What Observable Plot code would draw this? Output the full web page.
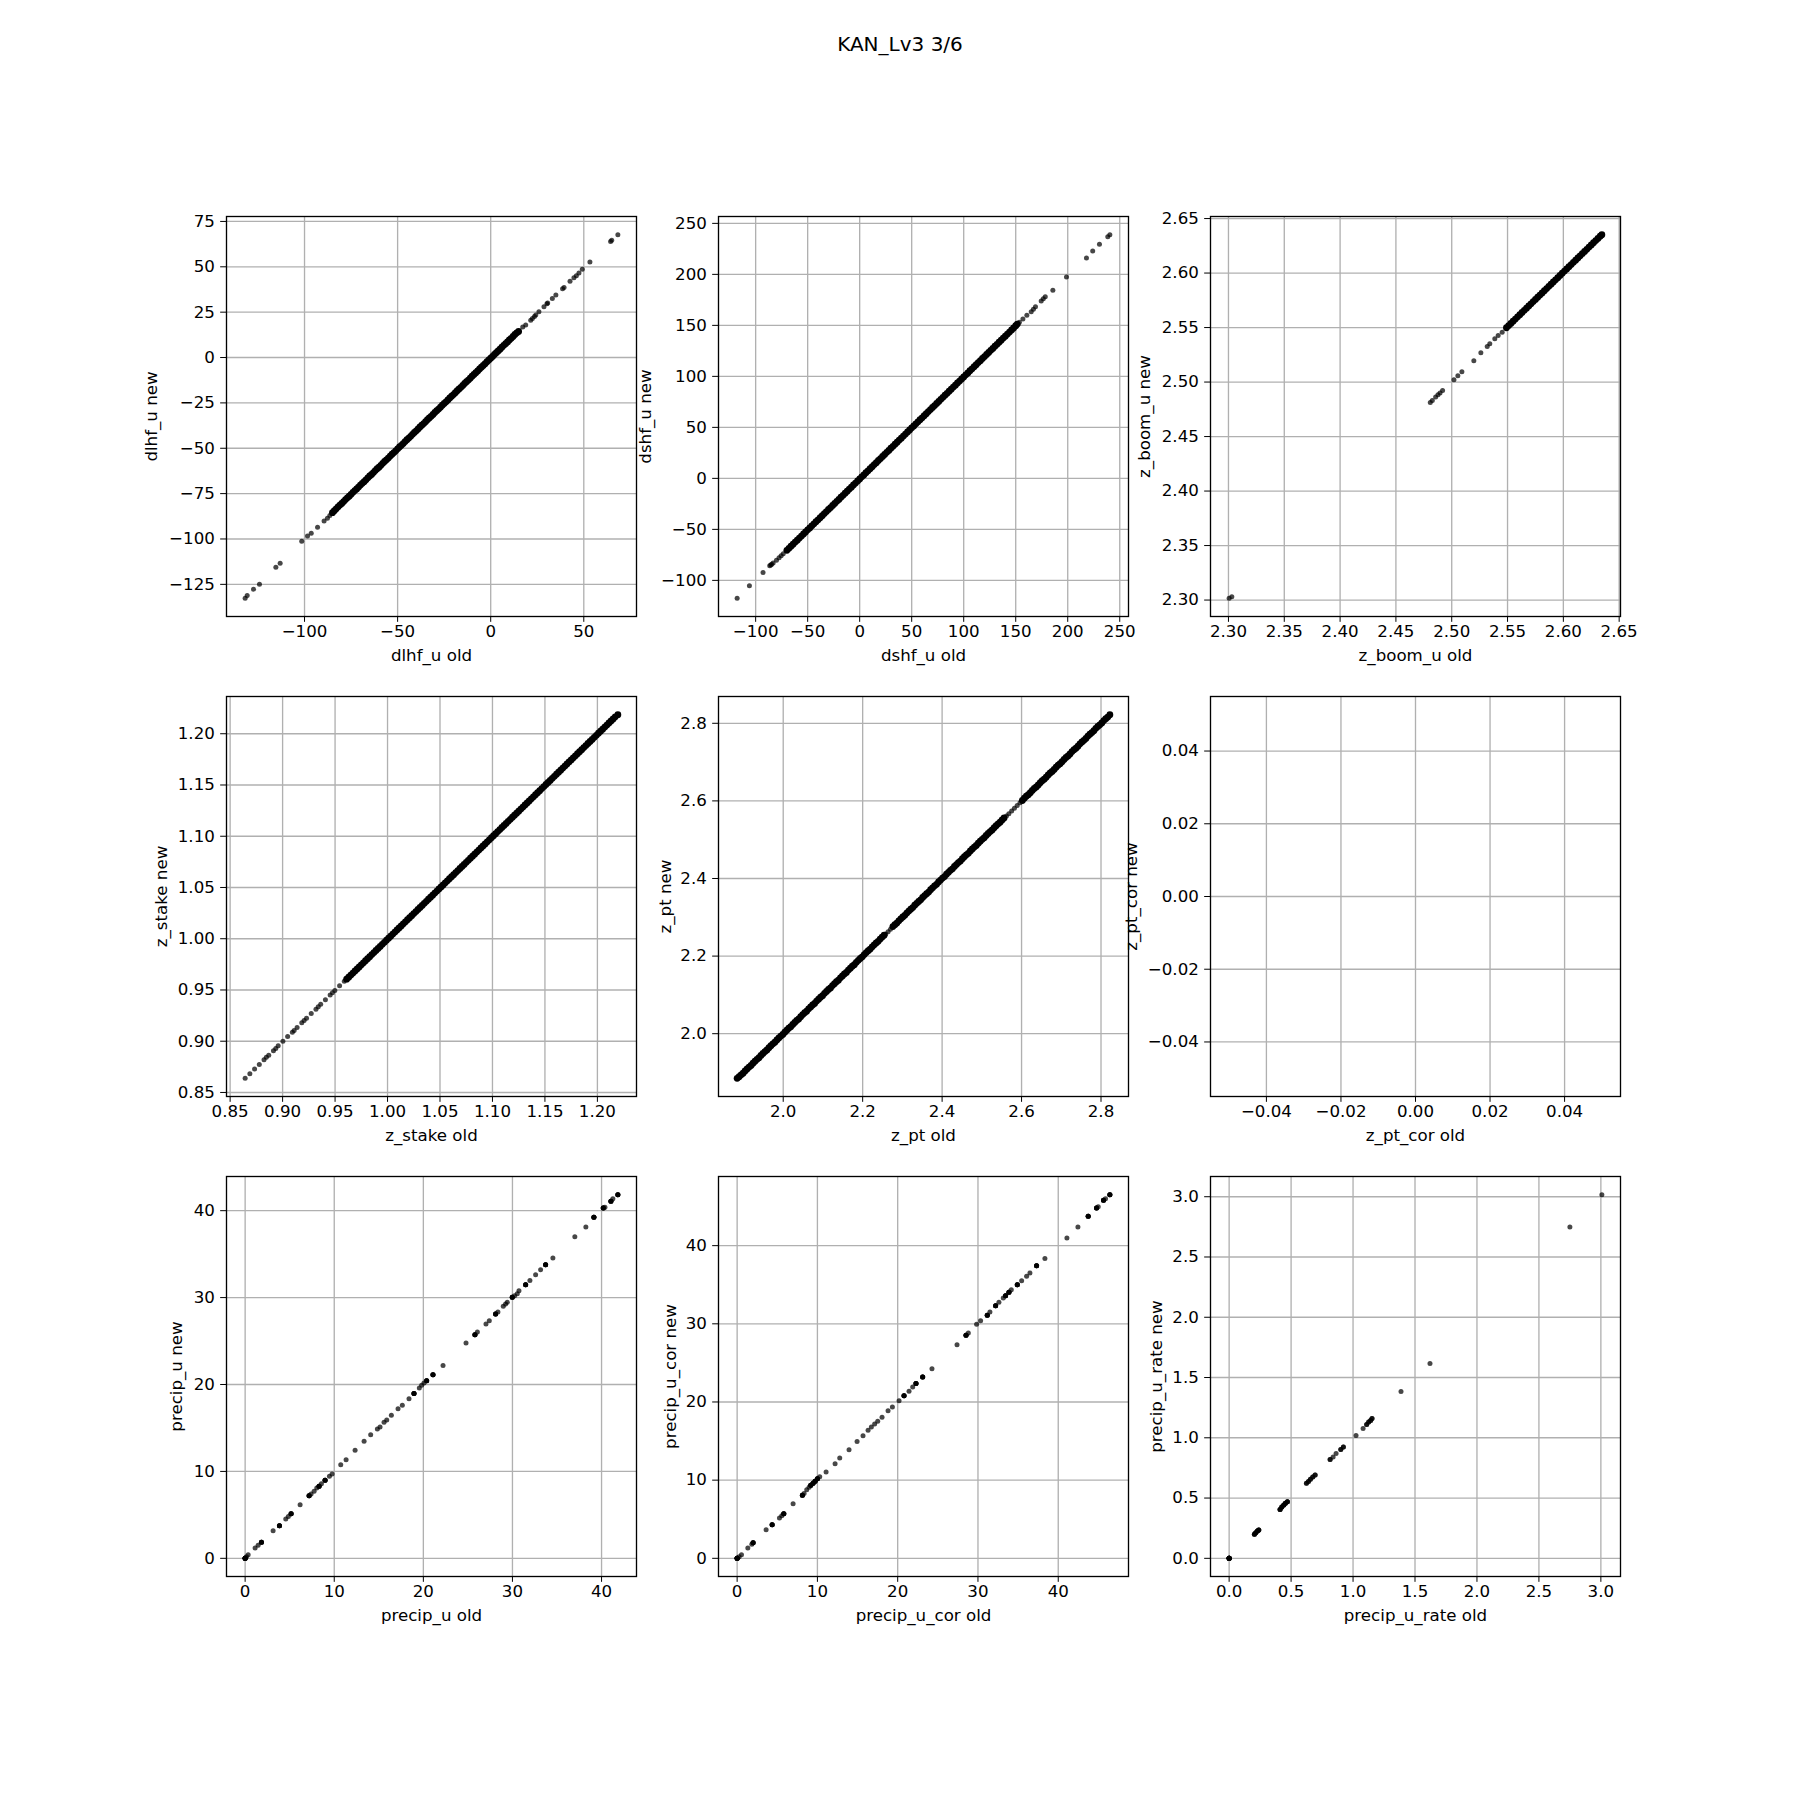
<!DOCTYPE html>
<html><head><meta charset="utf-8">
<script src="https://cdn.jsdelivr.net/npm/d3@7"></script>
<script src="https://cdn.jsdelivr.net/npm/@observablehq/plot@0.6"></script>
<style>
body{margin:0;background:#fff;}
#fig{position:relative;width:1800px;height:1800px;background:#fff;font-family:"DejaVu Sans",sans-serif;overflow:hidden;}
#title{position:absolute;left:0;width:1800px;top:34px;text-align:center;font-size:20px;line-height:1;color:#000;}
.panel{position:absolute;}
.panel svg{overflow:visible;}
</style></head><body>
<div id="fig"><div id="title">KAN_Lv3 3/6</div></div>
<script>
// ---------- data: [old, new, (stack count)] ----------
const dlhfSparse = [[-131.9,-132.7],[-130.8,-131.2],[-127.4,-127.7],[-124.2,-125],[-115.4,-115.6],[-113.1,-113.4],[-101.5,-101.3],[-98.4,-98.3],[-96.4,-96.9],[-93,-93.6],[-89.5,-90.1],[-87.7,-88.6],[-86.4,-87],[17.2,16.8],[18.8,17.9],[21.5,20.6],[22.4,21.5],[23.5,22.6],[24.2,23.5],[25.9,25.2],[28.6,28],[30.2,29.6],[30.6,30],[33.1,32.5],[35,34.5],[38.6,37.9],[39.4,38.6],[42.6,42],[44.7,43.9],[46,45.1],[47.4,46.6],[49.2,48.7],[53.3,52.7],[64.4,64],[65,64.6],[68.3,67.7]];
const dlhfDense = [[-85,-85.5],[-84,-84.4],[-83,-83.4],[-82,-82.3],[-81,-81.3],[-80,-80.4],[-79,-79.4],[-78,-78.3],[-77,-77.3],[-76,-76.4],[-75,-75.4],[-74,-74.3],[-73,-73.3],[-72,-72.4],[-71,-71.4],[-70,-70.3],[-69,-69.3],[-68,-68.4],[-67,-67.4],[-66,-66.3],[-65,-65.3],[-64,-64.4],[-63,-63.4],[-62,-62.3],[-61,-61.3],[-60,-60.4],[-59,-59.4],[-58,-58.3],[-57,-57.3],[-56,-56.4],[-55,-55.4],[-54,-54.3],[-53,-53.3],[-52,-52.4],[-51,-51.4],[-50,-50.3],[-49,-49.3],[-48,-48.4],[-47,-47.4],[-46,-46.3],[-45,-45.3],[-44,-44.4],[-43,-43.4],[-42,-42.3],[-41,-41.3],[-40,-40.4],[-39,-39.4],[-38,-38.3],[-37,-37.3],[-36,-36.4],[-35,-35.4],[-34,-34.3],[-33,-33.3],[-32,-32.4],[-31,-31.4],[-30,-30.3],[-29,-29.3],[-28,-28.4],[-27,-27.4],[-26,-26.3],[-25,-25.3],[-24,-24.4],[-23,-23.4],[-22,-22.3],[-21,-21.3],[-20,-20.4],[-19,-19.4],[-18,-18.3],[-17,-17.3],[-16,-16.4],[-15,-15.4],[-14,-14.3],[-13,-13.3],[-12,-12.4],[-11,-11.4],[-10,-10.3],[-9,-9.3],[-8,-8.4],[-7,-7.4],[-6,-6.3],[-5,-5.3],[-4,-4.4],[-3,-3.4],[-2,-2.3],[-1,-1.3],[0,-0.4],[1,0.6],[2,1.7],[3,2.7],[4,3.6],[5,4.6],[6,5.7],[7,6.7],[8,7.6],[9,8.6],[10,9.7],[11,10.6],[12,11.6],[13,12.7],[14,13.6],[15,14.4]];
const dlhfXTicks = [-100,-50,0,50];
const dlhfYTicks = [-125,-100,-75,-50,-25,0,25,50,75];

const dshfSparse = [[-117.8,-117.6],[-106,-105.2],[-92.9,-92.2],[-86.5,-85.6],[-85.5,-85],[-84.6,-84.3],[-83.2,-83],[-80,-80.4],[-77.5,-77.9],[-75.5,-75.8],[-73.5,-73.9],[153.5,153],[156.9,156.2],[160.7,159.8],[164.9,163.4],[167,165.8],[169,168.3],[174.5,173.9],[176.5,176],[178.4,178.1],[185.7,184.3],[198.8,197.4],[218,216],[224,222.9],[230.5,229.4],[238.5,236.9],[240.5,238.9]];
const dshfDense = [[-70,-70.5],[-68,-68.6],[-66,-66.5],[-64,-64.6],[-62,-62.5],[-60,-60.6],[-58,-58.5],[-56,-56.6],[-54,-54.5],[-52,-52.6],[-50,-50.5],[-48,-48.6],[-46,-46.5],[-44,-44.6],[-42,-42.5],[-40,-40.6],[-38,-38.5],[-36,-36.6],[-34,-34.5],[-32,-32.6],[-30,-30.5],[-28,-28.6],[-26,-26.5],[-24,-24.6],[-22,-22.5],[-20,-20.6],[-18,-18.5],[-16,-16.6],[-14,-14.5],[-12,-12.6],[-10,-10.5],[-8,-8.6],[-6,-6.5],[-4,-4.6],[-2,-2.5],[0,-0.6],[2,1.5],[4,3.4],[6,5.5],[8,7.4],[10,9.5],[12,11.4],[14,13.5],[16,15.4],[18,17.5],[20,19.4],[22,21.5],[24,23.4],[26,25.5],[28,27.4],[30,29.5],[32,31.4],[34,33.5],[36,35.4],[38,37.5],[40,39.4],[42,41.5],[44,43.4],[46,45.5],[48,47.4],[50,49.5],[52,51.4],[54,53.5],[56,55.4],[58,57.5],[60,59.4],[62,61.5],[64,63.4],[66,65.5],[68,67.4],[70,69.5],[72,71.4],[74,73.5],[76,75.4],[78,77.5],[80,79.4],[82,81.5],[84,83.4],[86,85.5],[88,87.4],[90,89.5],[92,91.4],[94,93.5],[96,95.4],[98,97.5],[100,99.4],[102,101.5],[104,103.4],[106,105.5],[108,107.4],[110,109.5],[112,111.4],[114,113.5],[116,115.4],[118,117.5],[120,119.4],[122,121.5],[124,123.4],[126,125.5],[128,127.4],[130,129.5],[132,131.4],[134,133.5],[136,135.4],[138,137.5],[140,139.4],[142,141.5],[144,143.4],[146,145.5],[148,147.4],[150,149.6],[151.5,151.3]];
const dshfXTicks = [-100,-50,0,50,100,150,200,250];
const dshfYTicks = [-100,-50,0,50,100,150,200,250];

const zboomSparse = [[2.3006,2.3016],[2.3030,2.3031],[2.4808,2.4813],[2.4826,2.4831],[2.4856,2.4862],[2.4877,2.4883],[2.4895,2.4899],[2.4918,2.4923],[2.5020,2.5021],[2.5055,2.5058],[2.5091,2.5095],[2.5198,2.5196],[2.5261,2.5269],[2.5318,2.5327],[2.5341,2.5352],[2.5386,2.5398],[2.5416,2.5428],[2.5452,2.5456]];
const zboomDense = [[2.549,2.5498],[2.551,2.5518],[2.553,2.5538],[2.555,2.5558],[2.557,2.5578],[2.559,2.5598],[2.561,2.5618],[2.563,2.5638],[2.565,2.5658],[2.567,2.5678],[2.569,2.5698],[2.571,2.5718],[2.573,2.5738],[2.575,2.5758],[2.577,2.5778],[2.579,2.5798],[2.581,2.5818],[2.583,2.5838],[2.585,2.5858],[2.587,2.5878],[2.589,2.5898],[2.591,2.5918],[2.593,2.5938],[2.595,2.5958],[2.597,2.5978],[2.599,2.5998],[2.601,2.6018],[2.603,2.6038],[2.605,2.6058],[2.607,2.6078],[2.609,2.6098],[2.611,2.6118],[2.613,2.6138],[2.615,2.6158],[2.617,2.6178],[2.619,2.6198],[2.621,2.6218],[2.623,2.6238],[2.625,2.6258],[2.627,2.6278],[2.629,2.6298],[2.631,2.6318],[2.633,2.6338],[2.6345,2.6352]];
const zboomTicks = [2.30,2.35,2.40,2.45,2.50,2.55,2.60,2.65];

const zstakeSparse = [[0.8643,0.8638],[0.8688,0.8683],[0.8733,0.8729],[0.8778,0.8772],[0.8823,0.8820],[0.8845,0.8843],[0.8868,0.8864],[0.8913,0.8908],[0.8935,0.8930],[0.8958,0.8955],[0.9003,0.8999],[0.9048,0.9045],[0.9093,0.9088],[0.9110,0.9105],[0.9138,0.9133],[0.9183,0.9180],[0.9205,0.9202],[0.9228,0.9225],[0.9273,0.9270],[0.9318,0.9313],[0.9340,0.9336],[0.9363,0.9360],[0.9408,0.9405],[0.9453,0.9450],[0.9475,0.9472],[0.9498,0.9494],[0.9543,0.9540],[0.9588,0.9585]];
const zstakeDense = [[0.961,0.9605],[0.963,0.9625],[0.965,0.9645],[0.967,0.9665],[0.969,0.9685],[0.971,0.9705],[0.973,0.9725],[0.975,0.9745],[0.977,0.9765],[0.979,0.9785],[0.981,0.9805],[0.983,0.9825],[0.985,0.9845],[0.987,0.9865],[0.989,0.9885],[0.991,0.9905],[0.993,0.9925],[0.995,0.9945],[0.997,0.9965],[0.999,0.9985],[1.001,1.0005],[1.003,1.0025],[1.005,1.0045],[1.007,1.0065],[1.009,1.0085],[1.011,1.0105],[1.013,1.0125],[1.015,1.0145],[1.017,1.0165],[1.019,1.0185],[1.021,1.0205],[1.023,1.0225],[1.025,1.0245],[1.027,1.0265],[1.029,1.0285],[1.031,1.0305],[1.033,1.0325],[1.035,1.0345],[1.037,1.0365],[1.039,1.0385],[1.041,1.0405],[1.043,1.0425],[1.045,1.0445],[1.047,1.0465],[1.049,1.0485],[1.051,1.0505],[1.053,1.0525],[1.055,1.0545],[1.057,1.0565],[1.059,1.0585],[1.061,1.0605],[1.063,1.0625],[1.065,1.0645],[1.067,1.0665],[1.069,1.0685],[1.071,1.0705],[1.073,1.0725],[1.075,1.0745],[1.077,1.0765],[1.079,1.0785],[1.081,1.0805],[1.083,1.0825],[1.085,1.0845],[1.087,1.0865],[1.089,1.0885],[1.091,1.0905],[1.093,1.0925],[1.095,1.0945],[1.097,1.0965],[1.099,1.0985],[1.101,1.1005],[1.103,1.1025],[1.105,1.1045],[1.107,1.1065],[1.109,1.1085],[1.111,1.1105],[1.113,1.1125],[1.115,1.1145],[1.117,1.1165],[1.119,1.1185],[1.121,1.1205],[1.123,1.1225],[1.125,1.1245],[1.127,1.1265],[1.129,1.1285],[1.131,1.1305],[1.133,1.1325],[1.135,1.1345],[1.137,1.1365],[1.139,1.1385],[1.141,1.1405],[1.143,1.1425],[1.145,1.1445],[1.147,1.1465],[1.149,1.1485],[1.151,1.1505],[1.153,1.1525],[1.155,1.1545],[1.157,1.1565],[1.159,1.1585],[1.161,1.1605],[1.163,1.1625],[1.165,1.1645],[1.167,1.1665],[1.169,1.1685],[1.171,1.1705],[1.173,1.1725],[1.175,1.1745],[1.177,1.1765],[1.179,1.1785],[1.181,1.1805],[1.183,1.1825],[1.185,1.1845],[1.187,1.1865],[1.189,1.1885],[1.191,1.1905],[1.193,1.1925],[1.195,1.1945],[1.197,1.1965],[1.199,1.1985],[1.201,1.2005],[1.203,1.2025],[1.205,1.2045],[1.207,1.2065],[1.209,1.2085],[1.211,1.2105],[1.213,1.2125],[1.215,1.2145],[1.217,1.2165],[1.2195,1.2186]];
const zstakeTicks = [0.85,0.90,0.95,1.00,1.05,1.10,1.15,1.20];

const zptSparse = [[2.258,2.257],[2.264,2.263],[2.270,2.269],[2.562,2.561],[2.568,2.567],[2.575,2.574],[2.582,2.581],[2.589,2.588],[2.596,2.595]];
const zptDense = [[1.884,1.885],[1.889,1.889],[1.894,1.894],[1.899,1.898],[1.904,1.904],[1.909,1.909],[1.914,1.914],[1.919,1.918],[1.924,1.924],[1.929,1.929],[1.934,1.934],[1.939,1.938],[1.944,1.944],[1.949,1.949],[1.954,1.954],[1.959,1.958],[1.964,1.964],[1.969,1.969],[1.974,1.974],[1.979,1.978],[1.984,1.984],[1.989,1.989],[1.994,1.994],[1.999,1.998],[2.004,2.004],[2.009,2.009],[2.014,2.014],[2.019,2.018],[2.024,2.024],[2.029,2.029],[2.034,2.034],[2.039,2.038],[2.044,2.044],[2.049,2.049],[2.054,2.054],[2.059,2.058],[2.064,2.064],[2.069,2.069],[2.074,2.074],[2.079,2.078],[2.084,2.084],[2.089,2.089],[2.094,2.094],[2.099,2.098],[2.104,2.104],[2.109,2.109],[2.114,2.114],[2.119,2.118],[2.124,2.124],[2.129,2.129],[2.134,2.134],[2.139,2.138],[2.144,2.144],[2.149,2.149],[2.154,2.154],[2.159,2.158],[2.164,2.164],[2.169,2.169],[2.174,2.174],[2.179,2.178],[2.184,2.184],[2.189,2.189],[2.194,2.194],[2.199,2.198],[2.204,2.204],[2.209,2.209],[2.214,2.214],[2.219,2.218],[2.224,2.224],[2.229,2.229],[2.234,2.234],[2.239,2.238],[2.244,2.244],[2.249,2.249],[2.254,2.254],[2.276,2.276],[2.281,2.281],[2.286,2.285],[2.291,2.291],[2.296,2.296],[2.301,2.301],[2.306,2.305],[2.311,2.311],[2.316,2.316],[2.321,2.321],[2.326,2.325],[2.331,2.331],[2.336,2.336],[2.341,2.341],[2.346,2.345],[2.351,2.351],[2.356,2.356],[2.361,2.361],[2.366,2.365],[2.371,2.371],[2.376,2.376],[2.381,2.381],[2.386,2.385],[2.391,2.391],[2.396,2.396],[2.401,2.401],[2.406,2.405],[2.411,2.411],[2.416,2.416],[2.421,2.421],[2.426,2.425],[2.431,2.431],[2.436,2.436],[2.441,2.441],[2.446,2.445],[2.451,2.451],[2.456,2.456],[2.461,2.461],[2.466,2.465],[2.471,2.471],[2.476,2.476],[2.481,2.481],[2.486,2.485],[2.491,2.491],[2.496,2.496],[2.501,2.501],[2.506,2.505],[2.511,2.511],[2.516,2.516],[2.521,2.521],[2.526,2.525],[2.531,2.531],[2.536,2.536],[2.541,2.541],[2.546,2.545],[2.551,2.551],[2.556,2.556],[2.602,2.601],[2.607,2.607],[2.612,2.612],[2.617,2.616],[2.622,2.621],[2.627,2.627],[2.632,2.632],[2.637,2.636],[2.642,2.641],[2.647,2.647],[2.652,2.652],[2.657,2.656],[2.662,2.661],[2.667,2.667],[2.672,2.672],[2.677,2.676],[2.682,2.681],[2.687,2.687],[2.692,2.692],[2.697,2.696],[2.702,2.701],[2.707,2.707],[2.712,2.712],[2.717,2.716],[2.722,2.721],[2.727,2.727],[2.732,2.732],[2.737,2.736],[2.742,2.741],[2.747,2.747],[2.752,2.752],[2.757,2.756],[2.762,2.761],[2.767,2.767],[2.772,2.772],[2.777,2.776],[2.782,2.781],[2.787,2.787],[2.792,2.792],[2.797,2.796],[2.802,2.801],[2.807,2.807],[2.812,2.812],[2.817,2.816],[2.8223,2.8222]];
const zptTicks = [2.0,2.2,2.4,2.6,2.8];

const zptcorPoints = [];
const zptcorTicks = [-0.04,-0.02,0.00,0.02,0.04];
const zptcorDomain = [-0.055,0.055];

const precipPoints = [[0,0,8],[0.15,0.19],[0.34,0.42],[1.12,1.19],[1.46,1.5],[1.83,1.84,4],[3.14,3.18],[3.85,3.76,4],[4.56,4.53],[4.85,4.82],[5.16,5.14,4],[6.17,6.17],[7.18,7.21,4],[7.4,7.4],[7.74,7.71],[8.04,8.09],[8.3,8.28,4],[8.56,8.59],[8.97,8.97,4],[9.46,9.43],[9.76,9.7],[10.73,10.78],[11.33,11.35],[12.34,12.43],[13.35,13.46],[14.09,14.23],[14.84,14.88],[15.14,15.11],[15.59,15.65],[15.89,15.92],[16.41,16.45],[17.16,17.22],[17.64,17.6],[18.39,18.37],[18.95,18.95,4],[19.55,19.6],[19.81,19.9],[20.07,20.17],[20.37,20.44,4],[21.08,21.13,4],[22.21,22.2],[24.79,24.77],[25.79,25.73,4],[26.06,26.04],[27.03,26.96],[27.4,27.34],[28.11,28.11,4],[28.37,28.34],[28.97,28.99],[29.23,29.26],[29.42,29.45],[29.98,30.03,4],[30.24,30.22],[30.54,30.45],[30.73,30.8],[31.48,31.49,4],[31.96,31.98],[32.6,32.64],[33.16,33.21],[33.72,33.79,4],[34.54,34.55],[37.0,37.0],[38.24,38.12],[39.14,39.23,4],[40.19,40.31,4],[40.38,40.4],[41.05,41.07,4],[41.27,41.38],[41.83,41.84,4]];
const precipTicks = [0,10,20,30,40];

const precipCorPoints = [[0,0,8],[0.25,0.21],[0.54,0.47],[1.33,1.32],[1.83,1.79],[1.99,2.0,4],[3.61,3.67],[4.36,4.31,4],[5.27,5.16],[5.56,5.46],[5.81,5.71,4],[6.97,6.99],[8.13,8.06,4],[8.34,8.28],[8.67,8.78],[8.96,9.08],[9.17,9.34,4],[9.46,9.59,4],[9.71,9.85,4],[10.0,10.19,4],[10.29,10.45],[11.08,11.04],[12.2,12.11],[12.78,12.84],[13.94,13.9],[14.94,14.93],[15.68,15.69],[16.31,16.38],[16.72,16.8],[17.13,17.18],[17.51,17.53],[18.05,18.04],[18.8,18.89],[19.34,19.36],[20.17,20.17],[20.79,20.81,4],[21.41,21.36],[21.87,21.92],[22.28,22.35,4],[23.11,23.2,4],[24.27,24.26],[27.39,27.33],[28.51,28.53,4],[28.8,28.83],[29.83,29.94],[30.33,30.4],[31.16,31.09,4],[31.49,31.51],[32.2,32.32,4],[32.61,32.75],[33.15,33.3],[33.44,33.6,4],[33.86,34.03,4],[34.15,34.37],[34.9,35.01,4],[35.44,35.52],[36.06,36.08],[36.47,36.5],[37.3,37.44,4],[38.34,38.34],[41.08,40.98],[42.45,42.39],[43.73,43.75,4],[44.77,44.82,4],[44.98,44.99],[45.64,45.8,4],[45.89,46.01],[46.43,46.52,4]];
const precipCorTicks = [0,10,20,30,40];

const precipRatePoints = [[0,0,10],[0.204,0.199,3],[0.215,0.213,3],[0.228,0.227,3],[0.239,0.235,3],[0.411,0.406,3],[0.425,0.425,3],[0.441,0.442,3],[0.454,0.456,3],[0.47,0.47,3],[0.624,0.622,2],[0.640,0.638,2],[0.656,0.655,2],[0.675,0.674,2],[0.694,0.691,2],[0.815,0.82,2],[0.839,0.84],[0.863,0.87],[0.901,0.903,2],[0.922,0.923,2],[1.024,1.019],[1.081,1.077],[1.11,1.11,2],[1.126,1.13,2],[1.142,1.144,2],[1.153,1.16,2],[1.387,1.384],[1.621,1.616],[2.75,2.749],[3.008,3.017]];
const precipRateTicks = [0.0,0.5,1.0,1.5,2.0,2.5,3.0];

// ---------- layout ----------
const colLeft = [226, 717.5, 1210];
const rowTop = [216, 696, 1176];
const W = 410, H = 400;
const ML = 110, MR = 12, MT = 12, MB = 70;
const FONT = "16.67px";
const TICK = 5.83;

const panels = [
  {row:0,col:0,sparse:dlhfSparse,dense:dlhfDense,xt:dlhfXTicks,yt:dlhfYTicks,fx:"d",fy:"d",xl:"dlhf_u old",yl:"dlhf_u new",ylo:81},
  {row:0,col:1,sparse:dshfSparse,dense:dshfDense,xt:dshfXTicks,yt:dshfYTicks,fx:"d",fy:"d",xl:"dshf_u old",yl:"dshf_u new",ylo:79},
  {row:0,col:2,sparse:zboomSparse,dense:zboomDense,xt:zboomTicks,yt:zboomTicks,fx:".2f",fy:".2f",xl:"z_boom_u old",yl:"z_boom_u new",ylo:72},
  {row:1,col:0,sparse:zstakeSparse,dense:zstakeDense,xt:zstakeTicks,yt:zstakeTicks,fx:".2f",fy:".2f",xl:"z_stake old",yl:"z_stake new",ylo:71},
  {row:1,col:1,sparse:zptSparse,dense:zptDense,xt:zptTicks,yt:zptTicks,fx:".1f",fy:".1f",xl:"z_pt old",yl:"z_pt new",ylo:59},
  {row:1,col:2,sparse:zptcorPoints,dense:[],xt:zptcorTicks,yt:zptcorTicks,fx:".2f",fy:".2f",xl:"z_pt_cor old",yl:"z_pt_cor new",ylo:85,domain:zptcorDomain},
  {row:2,col:0,sparse:precipPoints,dense:[],xt:precipTicks,yt:precipTicks,fx:"d",fy:"d",xl:"precip_u old",yl:"precip_u new",ylo:56},
  {row:2,col:1,sparse:precipCorPoints,dense:[],xt:precipCorTicks,yt:precipCorTicks,fx:"d",fy:"d",xl:"precip_u_cor old",yl:"precip_u_cor new",ylo:54},
  {row:2,col:2,sparse:precipRatePoints,dense:[],xt:precipRateTicks,yt:precipRateTicks,fx:".1f",fy:".1f",xl:"precip_u_rate old",yl:"precip_u_rate new",ylo:60}
];

function expand(pairs){
  const out = [];
  for (const p of pairs){ const n = p[2] || 1; for (let i = 0; i < n; i++) out.push({o:p[0], n:p[1]}); }
  return out;
}
function autoDomain(vals){
  const lo = d3.min(vals), hi = d3.max(vals), m = (hi - lo) * 0.05;
  return [lo - m, hi + m];
}

const fig = document.getElementById("fig");
for (const p of panels){
  const sp = expand(p.sparse), dn = expand(p.dense), all = sp.concat(dn);
  const xd = p.domain || autoDomain(all.map(d => d.o));
  const yd = p.domain || autoDomain(all.map(d => d.n));
  const chart = Plot.plot({
    width: ML + W + MR, height: MT + H + MB,
    marginLeft: ML, marginRight: MR, marginTop: MT, marginBottom: MB,
    style: {fontFamily: "DejaVu Sans, sans-serif", fontSize: FONT, background: "transparent", overflow: "visible", color: "black"},
    x: {domain: xd, ticks: p.xt, tickFormat: d3.format(p.fx), label: p.xl, labelArrow: "none", labelAnchor: "center", labelOffset: 44, tickSize: TICK, tickPadding: 2.5},
    y: {domain: yd, ticks: p.yt, tickFormat: d3.format(p.fy), label: p.yl, labelArrow: "none", labelAnchor: "center", labelOffset: p.ylo, tickSize: TICK, tickPadding: TICK},
    marks: [
      Plot.ruleX(p.xt, {stroke: "#b0b0b0", strokeWidth: 1.33}),
      Plot.ruleY(p.yt, {stroke: "#b0b0b0", strokeWidth: 1.33}),
      Plot.dot(dn, {x: "o", y: "n", r: 3.4, fill: "black", fillOpacity: 1}),
      Plot.dot(sp, {x: "o", y: "n", r: 2.5, fill: "black", fillOpacity: 0.72}),
      Plot.frame({stroke: "black", strokeWidth: 1.33})
    ]
  });
  const div = document.createElement("div");
  div.className = "panel";
  div.style.left = (colLeft[p.col] - ML) + "px";
  div.style.top = (rowTop[p.row] - MT) + "px";
  div.appendChild(chart);
  fig.appendChild(div);
}
</script>
</body></html>
